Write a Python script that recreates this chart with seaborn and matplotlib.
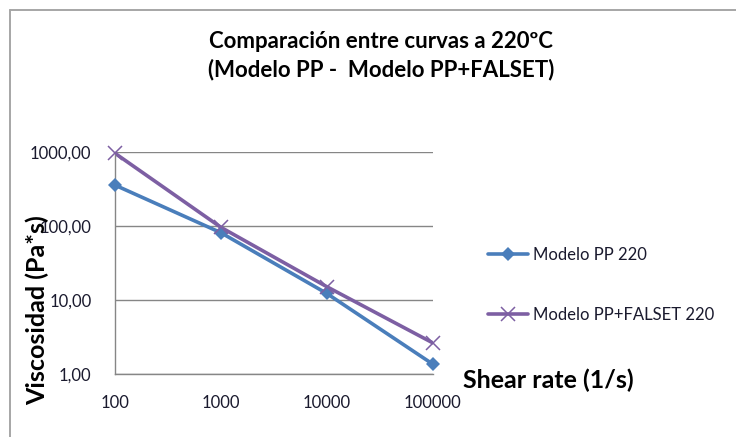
import matplotlib
matplotlib.use("Agg")
import matplotlib.pyplot as plt
import matplotlib.ticker as mticker
from matplotlib.lines import Line2D
import seaborn as sns
import pandas as pd

# Shear rates (1/s) and viscosities (Pa*s) at 220 ºC
shear_rate = [100, 1000, 10000, 100000]
visc_pp = [360, 82, 12.4, 1.38]
visc_pp_falset = [970, 97, 15.3, 2.67]
series_names = ["Modelo PP 220", "Modelo PP+FALSET 220"]
x_tick_labels = ["100", "1000", "10000", "100000"]
y_ticks = [1, 10, 100, 1000]

df = pd.DataFrame({
    "shear": shear_rate * 2,
    "visc": visc_pp + visc_pp_falset,
    "serie": [series_names[0]] * 4 + [series_names[1]] * 4,
})

sns.set_theme(style="white")
plt.rcParams["font.family"] = ["Lato", "DejaVu Sans"]

colors = {series_names[0]: "#4a7ebb", series_names[1]: "#7d5fa3"}

fig = plt.figure(figsize=(7.36, 4.37), dpi=100)
ax = fig.add_axes([115 / 736, 1 - 374.3 / 437, 317.5 / 736, 222 / 437])

sns.lineplot(data=df, x="shear", y="visc", hue="serie", palette=colors,
             linewidth=2.6, legend=False, ax=ax, sort=False)

ax.set_xscale("log")
ax.set_yscale("log")
ax.set_xlim(shear_rate[0], shear_rate[-1])
ax.set_ylim(y_ticks[0], y_ticks[-1])

# markers for each series
marker_style = {
    series_names[0]: dict(marker="D", markersize=7.5, markeredgewidth=0),
    series_names[1]: dict(marker="x", markersize=10, markeredgewidth=1.1),
}
for name, vals in zip(series_names, [visc_pp, visc_pp_falset]):
    ax.plot(shear_rate, vals, linestyle="none", color=colors[name],
            clip_on=False, zorder=4, **marker_style[name])

ax.set_xticks(shear_rate)
ax.set_xticklabels(x_tick_labels)
ax.xaxis.set_minor_locator(mticker.NullLocator())
ax.set_yticks(y_ticks)
ax.yaxis.set_major_formatter(mticker.FuncFormatter(
    lambda v, _: f"{v:.2f}".replace(".", ",")))
ax.yaxis.set_minor_locator(mticker.NullLocator())

ax.grid(axis="y", color="#868686", linewidth=1.0)
ax.grid(axis="x", visible=False)
for side in ("top", "right"):
    ax.spines[side].set_visible(False)
for side in ("left", "bottom"):
    ax.spines[side].set_color("#868686")
    ax.spines[side].set_linewidth(1.0)

ax.tick_params(axis="both", which="major", direction="out", length=5,
               width=1.0, color="#868686", labelsize=12, labelcolor="#1a1a2e")
ax.tick_params(axis="y", pad=12)
ax.tick_params(axis="x", pad=10)
ax.set_xlabel("")
ax.set_ylabel("")

# titles and axis captions
fig.text(381 / 736, 1 - 42 / 437, "Comparación entre curvas a 220ºC",
         ha="center", va="center", fontsize=16, fontweight="bold", color="#000000")
fig.text(381 / 736, 1 - 70 / 437, "(Modelo PP -  Modelo PP+FALSET)",
         ha="center", va="center", fontsize=16, fontweight="bold", color="#000000")
fig.text(37 / 736, 1 - 310 / 437, "Viscosidad (Pa*s)", rotation=90,
         ha="center", va="center", fontsize=18, fontweight="bold", color="#000000")
fig.text(463 / 736, 1 - 380 / 437, "Shear rate (1/s)",
         ha="left", va="center", fontsize=18, fontweight="bold", color="#000000")

# legend to the right of the plot
handles = [
    Line2D([], [], color=colors[n], linewidth=2.6, **marker_style[n])
    for n in series_names
]
fig.legend(handles, series_names, loc="center left",
           bbox_to_anchor=(488 / 736, 1 - 285 / 437), frameon=False,
           borderpad=0, borderaxespad=0,
           fontsize=12, labelspacing=2.6, handlelength=2.4, handletextpad=0.3,
           labelcolor="#1a1a2e")

# chart frame
fig.add_artist(Line2D([9.5 / 736, 9.5 / 736], [0, 1 - 10 / 437],
                      transform=fig.transFigure, color="#a6a6a6", linewidth=1.4))
fig.add_artist(Line2D([9.5 / 736, 1], [1 - 10 / 437, 1 - 10 / 437],
                      transform=fig.transFigure, color="#a6a6a6", linewidth=1.4))

fig.savefig("out.png", dpi=100)
